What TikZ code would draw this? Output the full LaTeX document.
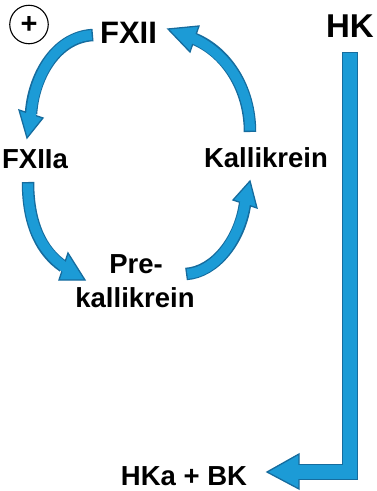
\documentclass[tikz,border=0pt]{standalone}
\usepackage{fontspec}
\setmainfont{Liberation Sans}
\definecolor{afill}{RGB}{28,155,214}
\definecolor{aline}{RGB}{22,108,158}
\begin{document}
\begin{tikzpicture}[x=1pt,y=-1pt,
  lbl/.style={font=\bfseries\fontsize{27.5}{34}\selectfont, inner sep=0pt, anchor=base},
  shaftout/.style={draw=aline, line width=12.5pt},
  shaftin/.style={draw=afill, line width=9.9pt, shorten <=1.4pt, shorten >=-4pt},
  elbowout/.style={draw=aline, line width=16pt, line join=miter},
  elbowin/.style={draw=afill, line width=13.4pt, line join=miter, shorten <=1.4pt, shorten >=-4pt},
  headtri/.style={fill=afill, draw=aline, line width=1.3pt, line join=miter}]
\useasboundingbox (0,0) rectangle (377,491);

% labels
\node[lbl, font=\bfseries\fontsize{31}{31}\selectfont] (fxii) at (128.5,43) {FXII};
\node[lbl, font=\bfseries\fontsize{33}{33}\selectfont] (hk) at (350,37) {HK};
\node[lbl] (fxiia) at (35,168) {FXIIa};
\node[lbl] (kal) at (266,167) {Kallikrein};
\node[lbl] (pre) at (136,273) {Pre-};
\node[lbl] (prek) at (135,307) {kallikrein};
\node[lbl] (hka) at (184,485) {HKa + BK};
\node[circle, draw, line width=1.1pt, minimum size=38.5pt, inner sep=0pt] (plus) at (29,24.5)
  {\bfseries\fontsize{29}{29}\selectfont +};

% arrow end points
\coordinate (a1s) at (93,35);   \coordinate (a1b) at (31,114);
\coordinate (a2s) at (250,132); \coordinate (a2b) at (194.5,39);
\coordinate (a3s) at (28,182);  \coordinate (a3b) at (63.5,266.5);
\coordinate (a4s) at (186,274); \coordinate (a4b) at (245,204);
\coordinate (a5s) at (350,52);  \coordinate (a5c) at (350,472); \coordinate (a5b) at (299,472);

% dark shafts
\draw[shaftout] (a1s) .. controls (55,37) and (33,78) .. (a1b);
\draw[shaftout] (a2s) .. controls (250,88) and (226,52) .. (a2b);
\draw[shaftout] (a3s) .. controls (28,225) and (42,252) .. (a3b);
\draw[shaftout] (a4s) .. controls (215,272) and (240,240) .. (a4b);
\draw[elbowout] (a5s) -- (a5c) -- (a5b);

% heads
\draw[headtri] (27,138) -- (19,110) -- (43,118) -- cycle;
\draw[headtri] (168,29) -- (199,26) -- (190,52) -- cycle;
\draw[headtri] (85,280) -- (59,280) -- (68,253) -- cycle;
\draw[headtri] (250,181) -- (233,200) -- (257,208) -- cycle;
\draw[headtri] (267,472) -- (299,454) -- (299,489) -- cycle;

% inner shafts
\draw[shaftin] (a1s) .. controls (55,37) and (33,78) .. (a1b);
\draw[shaftin] (a2s) .. controls (250,88) and (226,52) .. (a2b);
\draw[shaftin] (a3s) .. controls (28,225) and (42,252) .. (a3b);
\draw[shaftin] (a4s) .. controls (215,272) and (240,240) .. (a4b);
\draw[elbowin] (a5s) -- (a5c) -- (a5b);
\end{tikzpicture}
\end{document}
